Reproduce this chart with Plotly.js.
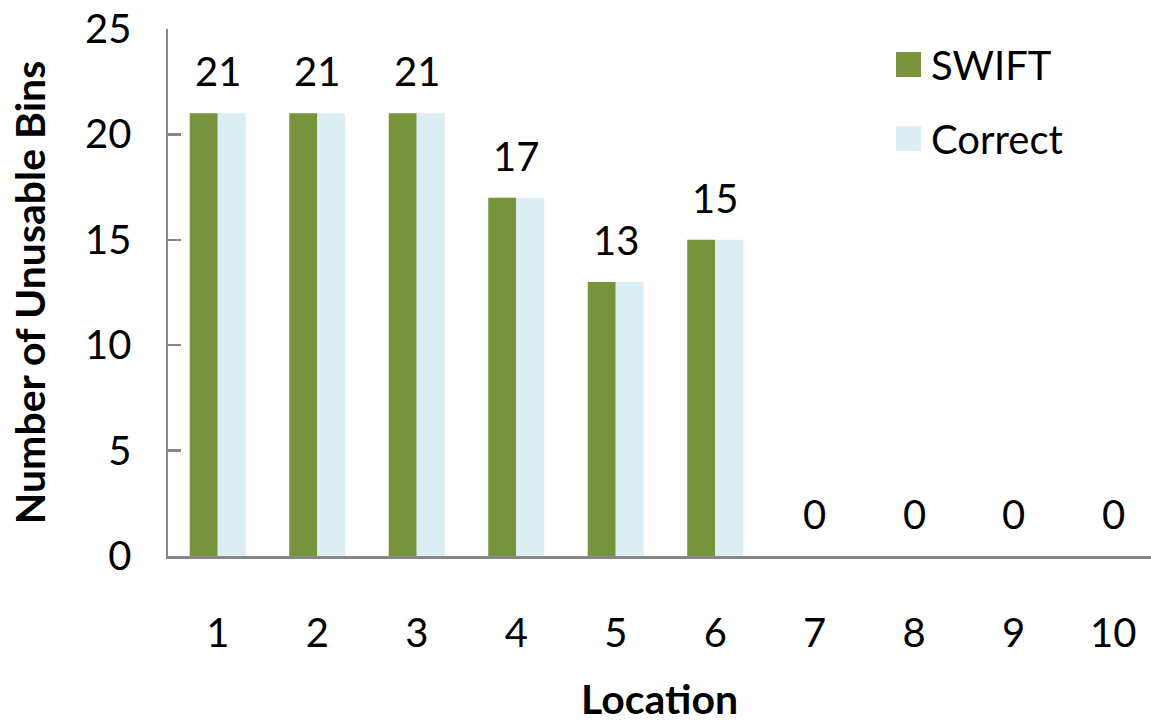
<!DOCTYPE html>
<html>
<head>
<meta charset="utf-8">
<script src="https://cdn.plot.ly/plotly-3.0.1.min.js"></script>
<style>
  html, body { margin: 0; padding: 0; background: #ffffff; }
  #chart { width: 1151px; height: 723px; }
</style>
</head>
<body>
<div id="chart"></div>
<script>
// Unusable bins per location, measured by SWIFT and the correct count
const locations = [1, 2, 3, 4, 5, 6, 7, 8, 9, 10];
const swiftBins = [21, 21, 21, 17, 13, 15, 0, 0, 0, 0];
const correctBins = [21, 21, 21, 17, 13, 15, 0, 0, 0, 0];
const seriesNames = ['SWIFT', 'Correct'];
const seriesColors = ['#77933C', '#DBEEF3'];
const yTicks = [0, 5, 10, 15, 20, 25];

const FONT = 'Lato, "Open Sans", sans-serif';
const TEXT_SIZE = 40;
const TITLE_SIZE = 41;

const traces = [
  { type: 'bar', x: locations, y: swiftBins, name: seriesNames[0],
    marker: { color: seriesColors[0] }, hoverinfo: 'x+y' },
  { type: 'bar', x: locations, y: correctBins, name: seriesNames[1],
    marker: { color: seriesColors[1] }, hoverinfo: 'x+y' }
];

// value labels centred over each pair of bars
const annotations = locations.map((loc, i) => ({
  x: loc, y: swiftBins[i], xref: 'x', yref: 'y',
  text: String(swiftBins[i]), showarrow: false,
  yanchor: 'middle', yshift: 42,
  font: { family: FONT, size: TEXT_SIZE, color: '#000000' }
}));

// legend: coloured squares with series names
const plotW = 983, plotH = 527, plotL = 168, plotB = 556;
const shapes = [];
const legendRowsPx = [64.5, 138.5];
seriesNames.forEach((name, i) => {
  const yc = (plotB - legendRowsPx[i]) / plotH;
  shapes.push({
    type: 'rect', xref: 'paper', yref: 'paper',
    x0: (896 - plotL) / plotW, x1: (921 - plotL) / plotW,
    y0: yc - 12.5 / plotH, y1: yc + 12.5 / plotH,
    fillcolor: seriesColors[i], line: { width: 0 }
  });
  annotations.push({
    xref: 'paper', yref: 'paper', x: (929 - plotL) / plotW, y: yc,
    xanchor: 'left', yanchor: 'middle', showarrow: false,
    text: name, font: { family: FONT, size: TEXT_SIZE, color: '#000000' }
  });
});

const layout = {
  width: 1151, height: 723,
  margin: { l: plotL, r: 0, t: 29, b: 167 },
  paper_bgcolor: '#ffffff', plot_bgcolor: '#ffffff',
  barmode: 'group', bargap: 0.437, bargroupgap: 0,
  showlegend: false,
  font: { family: FONT, color: '#000000' },
  xaxis: {
    range: [0.5, 10.38], tickvals: locations, ticktext: locations.map(String),
    showgrid: false, zeroline: false, showline: true,
    linecolor: '#878787', linewidth: 2.5, ticks: '',
    ticklabelstandoff: 40,
    tickfont: { family: FONT, size: TEXT_SIZE, color: '#000000' },
    title: { text: '<b>Location</b>', standoff: 40,
             font: { family: FONT, size: TITLE_SIZE, color: '#000000' } }
  },
  yaxis: {
    range: [0, 25], tickvals: yTicks, ticktext: yTicks.map(String),
    showgrid: false, zeroline: false, showline: true,
    linecolor: '#878787', linewidth: 2.5,
    ticks: 'inside', ticklen: 13, tickwidth: 2.5, tickcolor: '#878787',
    ticklabelstandoff: 26,
    tickfont: { family: FONT, size: TEXT_SIZE, color: '#000000' },
    title: { text: '<b>Number of Unusable Bins</b>', standoff: 27,
             font: { family: FONT, size: TITLE_SIZE, color: '#000000' } }
  },
  annotations: annotations,
  shapes: shapes
};

Plotly.newPlot('chart', traces, layout, { displayModeBar: false, staticPlot: true });
</script>
</body>
</html>
